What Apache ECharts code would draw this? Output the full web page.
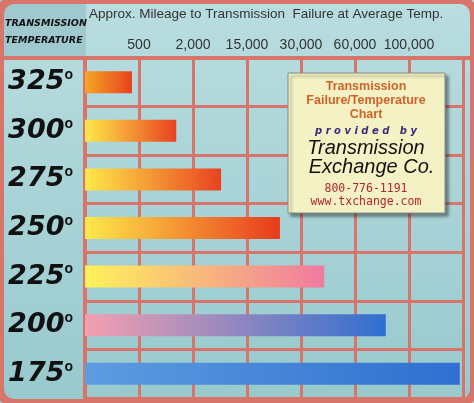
<!DOCTYPE html>
<html><head><meta charset="utf-8">
<script src="https://cdn.jsdelivr.net/npm/echarts@6/dist/echarts.min.js"></script>
<style>html,body{margin:0;padding:0;background:#fff}#main{width:474px;height:403px}</style>
</head><body><div id="main"></div>
<script>
// temperatures (rows, top to bottom)
var temps = ['325', '300', '275', '250', '225', '200', '175'];
// bar lengths in mileage-column units (1 = 500, 2 = 2,000 ...)
var miles = [0.87, 1.69, 2.52, 3.61, 4.43, 5.57, 6.94];
// column tick labels
var mileLabels = ['', '500', '2,000', '15,000', '30,000', '60,000', '100,000', ''];
// bar gradient colours
var barColors = [
  ['#f5a623', '#e8421f'], ['#ffe94a', '#e8421f'], ['#ffe94a', '#e8421f'],
  ['#ffe94a', '#e83a1c'], ['#fff25a', '#f07aa0'], ['#f4a0b0', '#2f6fd0'],
  ['#5d9ce0', '#2f6fd0']
];

var chart = echarts.init(document.getElementById('main'));
var line = '#d8756b';
var option = {
  backgroundColor: new echarts.graphic.LinearGradient(0, 0, 0, 1, [
    {offset: 0, color: '#b9dde0'}, {offset: 1, color: '#98c9cd'}]),
  grid: {left: 85, right: 11, top: 58, bottom: 5},
  xAxis: {
    type: 'value', position: 'top', min: 0, max: 7, interval: 1,
    axisLine: {show: false}, axisTick: {show: false},
    splitLine: {show: true, lineStyle: {color: line, width: 3}},
    axisLabel: {
      margin: 6, color: '#333', fontFamily: 'Liberation Sans', fontSize: 14,
      formatter: function (v) { return mileLabels[v] || ''; }
    }
  },
  yAxis: {
    type: 'category', inverse: true, data: temps,
    axisLine: {show: true, lineStyle: {color: line, width: 4}},
    axisTick: {show: false},
    splitLine: {show: true, lineStyle: {color: line, width: 3}},
    axisLabel: {
      margin: 12, formatter: function (v) { return '{t|' + v + '}{d|o}'; },
      rich: {
        t: {fontSize: 27, fontWeight: 'bold', fontStyle: 'italic', color: '#111', fontFamily: 'DejaVu Sans'},
        d: {fontSize: 14, fontWeight: 'bold', color: '#111', verticalAlign: 'top', padding: [0, 0, 14, 0]}
      }
    }
  },
  series: [{
    type: 'bar', barWidth: 22,
    data: miles.map(function (v, i) {
      return {value: v, itemStyle: {color: new echarts.graphic.LinearGradient(0, 0, 1, 0, [
        {offset: 0, color: barColors[i][0]}, {offset: 1, color: barColors[i][1]}]),
        shadowColor: 'rgba(0,0,0,0.35)', shadowOffsetX: 2, shadowOffsetY: 2, shadowBlur: 2}};
    })
  }],
  graphic: [
    {type: 'rect', left: 0, top: 0, z: 0, shape: {width: 86, height: 58}, style: {fill: '#9fc8cf'}},
    {type: 'line', shape: {x1: 0, y1: 58, x2: 474, y2: 58}, style: {stroke: line, lineWidth: 4}},
    {type: 'text', left: 5, top: 15, style: {text: 'TRANSMISSION\nTEMPERATURE', fontSize: 9.5, fontWeight: 'bold', fontStyle: 'italic', fill: '#111', lineHeight: 17, fontFamily: 'DejaVu Sans'}},
    {type: 'text', left: 89, top: 7, style: {text: 'Approx. Mileage to Transmission  Failure at Average Temp.', fontSize: 13.5, fill: '#333', fontFamily: 'Liberation Sans'}},
    {type: 'rect', shape: {x: 0, y: 0, width: 474, height: 403, r: 14}, style: {fill: 'none', stroke: line, lineWidth: 8}},
    {type: 'rect', z: 10, shape: {x: 288, y: 73, width: 157, height: 140}, style: {fill: '#f4f2c4', stroke: '#888', lineWidth: 1, shadowColor: 'rgba(0,0,0,0.4)', shadowOffsetX: 3, shadowOffsetY: 3, shadowBlur: 3}},
    {type: 'text', z: 11, x: 366, y: 80, style: {text: 'Transmission\nFailure/Temperature\nChart', align: 'center', fontSize: 12.5, fontWeight: 'bold', fill: '#d2622a', lineHeight: 14, fontFamily: 'Liberation Sans'}},
    {type: 'text', z: 11, x: 366, y: 126, style: {text: 'p r o v i d e d   b y', align: 'center', fontSize: 10, fontWeight: 'bold', fontStyle: 'italic', fill: '#3a2a7a', fontFamily: 'DejaVu Sans'}},
    {type: 'text', z: 11, x: 366, y: 139, style: {text: 'Transmission\n  Exchange Co.', align: 'center', fontSize: 20, fontStyle: 'italic', fill: '#111', lineHeight: 19, fontFamily: 'Liberation Sans'}},
    {type: 'text', z: 11, x: 366, y: 183, style: {text: '800-776-1191\nwww.txchange.com', align: 'center', fontSize: 11.5, fill: '#b4262a', lineHeight: 13, fontFamily: 'DejaVu Sans Mono'}}
  ]
};
chart.setOption(option);
</script></body></html>
